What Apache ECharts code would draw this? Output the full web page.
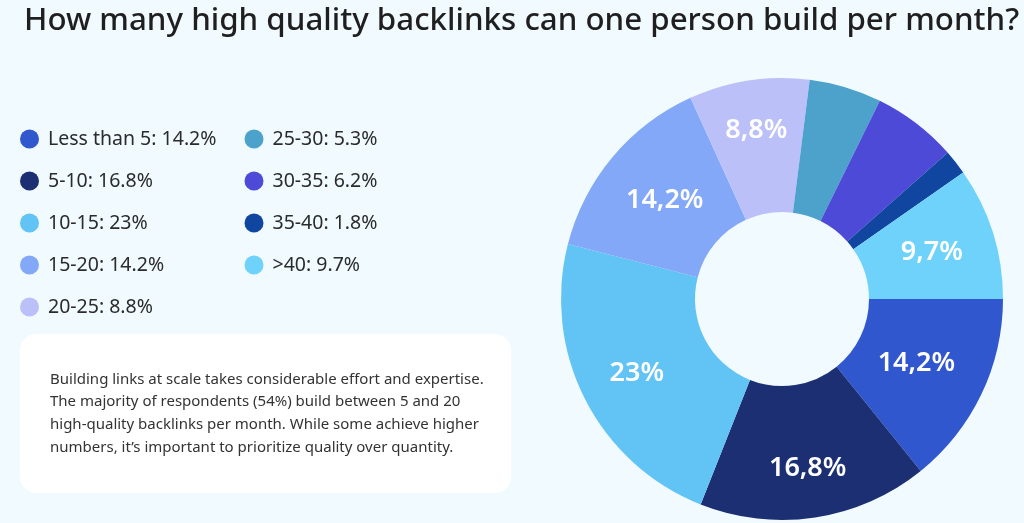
<!DOCTYPE html>
<html>
<head>
<meta charset="utf-8">
<style>
  html, body { margin: 0; padding: 0; background: #F0FAFF; }
  #chart { width: 1024px; height: 523px; }
</style>
<script src="https://cdn.jsdelivr.net/npm/echarts@6/dist/echarts.min.js"></script>
</head>
<body>
<div id="chart"></div>
<script>
const categories = ['Less than 5', '5-10', '10-15', '15-20', '20-25', '25-30', '30-35', '35-40', '>40'];
const values = [14.2, 16.8, 23, 14.2, 8.8, 5.3, 6.2, 1.8, 9.7];
const colors = ['#3057CE', '#1B2F72', '#62C3F5', '#84A8F8', '#BBC1F8', '#4DA2CC', '#4C4AD6', '#1045A0', '#6FD2FA'];
const labelShown = [true, true, true, true, true, false, false, false, true];
const legendCol1 = ['Less than 5', '5-10', '10-15', '15-20', '20-25'];
const legendCol2 = ['25-30', '30-35', '35-40', '>40'];
const titleText = 'How many high quality backlinks can one person build per month?';
const noteLines = [
  'Building links at scale takes considerable effort and expertise.',
  'The majority of respondents (54%) build between 5 and 20',
  'high-quality backlinks per month. While some achieve higher',
  'numbers, it\u2019s important to prioritize quality over quantity.'
];

// style: radial nudge (px) of each slice's label from the ring middle
const labelNudge = [-8, 14, 6, -4, 14, 0, 0, 0, 0];

const chart = echarts.init(document.getElementById('chart'), null, { renderer: 'canvas' });
const valueOf = name => values[categories.indexOf(name)];
const total = values.reduce((a, b) => a + b, 0);

const legendCommon = {
  orient: 'vertical',
  icon: 'circle',
  itemWidth: 19,
  itemHeight: 19,
  itemGap: 22,
  padding: 0,
  top: 129,
  formatter: name => name + ': ' + valueOf(name) + '%',
  textStyle: { fontFamily: 'Noto Sans', fontSize: 19.5, color: '#2b2b2b', padding: [0, 0, 0, 4] }
};

let acc = 0;
const seriesData = categories.map((c, i) => {
  const mid = (acc + values[i] / 2) / total * 2 * Math.PI; // clockwise from east
  acc += values[i];
  const d = labelNudge[i];
  return {
    name: c,
    value: values[i],
    itemStyle: { color: colors[i] },
    label: { show: labelShown[i], offset: [d * Math.cos(mid), d * Math.sin(mid)] }
  };
});

const option = {
  backgroundColor: '#F0FAFF',
  animation: false,
  title: {
    text: titleText,
    left: 19,
    top: 1,
    textStyle: { fontFamily: 'Noto Sans', fontSize: 31.3, fontWeight: 500, color: '#1f1f1f' }
  },
  legend: [
    Object.assign({}, legendCommon, { left: 20, data: legendCol1 }),
    Object.assign({}, legendCommon, { left: 244.5, data: legendCol2 })
  ],
  graphic: [
    {
      type: 'rect',
      left: 20, top: 334,
      shape: { width: 491, height: 159, r: 16 },
      style: { fill: '#ffffff' }
    },
    {
      type: 'text',
      left: 50, top: 368,
      style: {
        text: noteLines.join('\n'),
        font: '15px "Noto Sans"',
        lineHeight: 22.7,
        fill: '#333333'
      }
    }
  ],
  series: [{
    type: 'pie',
    center: [782, 299],
    radius: [87, 221],
    startAngle: 0,
    clockwise: true,
    avoidLabelOverlap: false,
    label: {
      position: 'inside',
      color: '#ffffff',
      fontFamily: 'Noto Sans',
      fontSize: 27,
      fontWeight: 600,
      formatter: p => String(p.value).replace('.', ',') + '%'
    },
    labelLine: { show: false },
    emphasis: { disabled: true },
    data: seriesData
  }]
};
chart.setOption(option);
</script>
</body>
</html>
